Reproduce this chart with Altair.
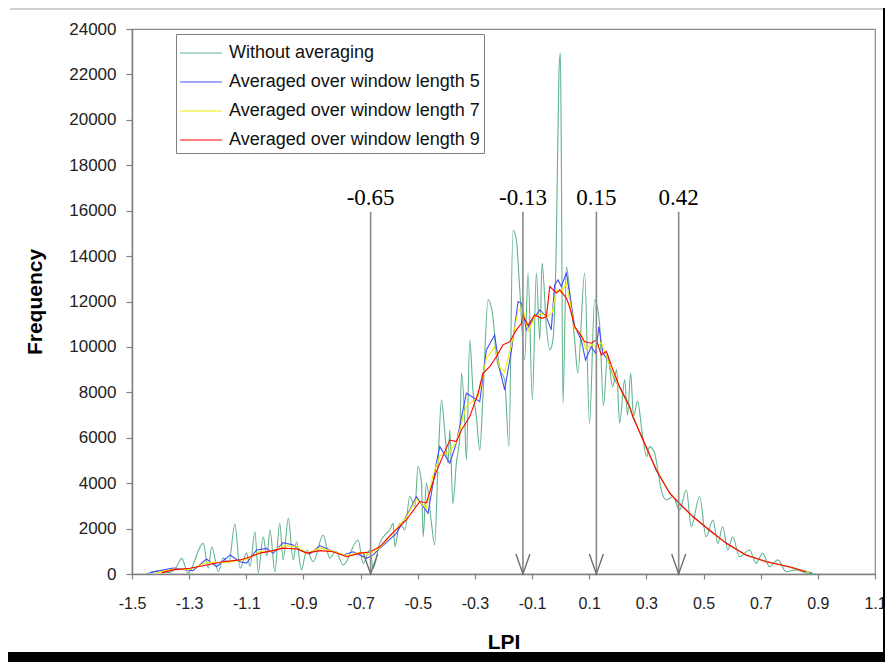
import altair as alt
import pandas as pd

# ---------------- data ----------------
series_names = [
    "Without averaging",
    "Averaged over window length 5",
    "Averaged over window length 7",
    "Averaged over window length 9",
]
series_colors = ["#62b48d", "#4a4aff", "#eeee00", "#ff0000"]
series_widths = [1.1, 1.1, 1.1, 2.2]

raw_x = [-1.450, -1.400, -1.370, -1.345, -1.326, -1.304, -1.251, -1.233, -1.221, -1.198,
         -1.181, -1.161, -1.140, -1.122, -1.099, -1.087, -1.070, -1.058, -1.041, -1.028,
         -1.017, -1.000, -0.983, -0.971, -0.953, -0.936, -0.924, -0.907, -0.889, -0.866,
         -0.831, -0.808, -0.787, -0.761, -0.709, -0.691, -0.668, -0.656, -0.633, -0.609,
         -0.598, -0.586, -0.580, -0.563, -0.545, -0.528, -0.510, -0.499, -0.487, -0.481,
         -0.470, -0.452, -0.441, -0.429, -0.417, -0.406, -0.394, -0.388, -0.377, -0.365,
         -0.353, -0.347, -0.336, -0.330, -0.318, -0.307, -0.295, -0.283, -0.272, -0.254,
         -0.237, -0.225, -0.213, -0.196, -0.181, -0.167, -0.155, -0.143, -0.126, -0.114,
         -0.099, -0.085, -0.073, -0.065, -0.050, -0.038, -0.027, -0.015, -0.006, -0.001,
         0.002, 0.008, 0.020, 0.031, 0.049, 0.060, 0.084, 0.101, 0.119, 0.136,
         0.150, 0.164, 0.182, 0.196, 0.206, 0.224, 0.234, 0.245, 0.255, 0.269,
         0.287, 0.301, 0.311, 0.329, 0.340, 0.352, 0.370, 0.393, 0.416, 0.440,
         0.457, 0.486, 0.509, 0.533, 0.550, 0.567, 0.585, 0.602, 0.626, 0.661,
         0.684, 0.707, 0.731, 0.760, 0.789, 0.824, 0.859, 0.894]
raw_y = [0, 150, 60, 300, 690, 40, 1350, 260, 1200, 100,
         700, 500, 2200, 260, 920, 320, 1860, 60, 1640, 800,
         1940, 100, 2230, 620, 2450, 620, 1420, 180, 1060, 540,
         1720, 690, 1000, 400, 1500, 470, 1060, 260, 1360, 1800,
         1940, 2230, 1200, 2230, 1940, 3410, 2970, 4730, 4000, 1640,
         4000, 2230, 1280, 4880, 7670, 6340, 4880, 6340, 3110, 4880,
         6050, 8840, 6930, 5020, 10310, 8110, 6930, 5460, 7810, 12070,
         11330, 9570, 8990, 8550, 5610, 15150, 14710, 12510, 9430, 13250,
         7670, 13250, 10310, 13690, 10900, 9870, 10310, 14710, 22060, 22940,
         19120, 7520, 13540, 12510, 10310, 8840, 13250, 6640, 12070, 11040,
         7400, 9700, 8250, 9000, 6640, 8550, 7000, 8840, 6930, 7600,
         6050, 5170, 5610, 5320, 4580, 3700, 3260, 3410, 2820, 3700,
         2080, 3410, 1640, 2380, 1350, 2080, 1060, 1640, 760, 1060,
         470, 910, 320, 620, 100, 180, 40, 0]

w5_x = [-1.437, -1.357, -1.287, -1.239, -1.204, -1.157, -1.122, -1.099, -1.064, -1.029,
        -1.006, -0.971, -0.936, -0.913, -0.878, -0.843, -0.808, -0.761, -0.726, -0.679,
        -0.656, -0.633, -0.575, -0.528, -0.505, -0.464, -0.435, -0.423, -0.388, -0.365,
        -0.330, -0.283, -0.260, -0.231, -0.213, -0.196, -0.172, -0.149, -0.137, -0.120,
        -0.097, -0.073, -0.050, -0.033, -0.021, -0.009, 0.002, 0.020, 0.031, 0.049,
        0.072, 0.087, 0.107, 0.122, 0.134, 0.148, 0.165, 0.189, 0.206, 0.241,
        0.253, 0.288, 0.335, 0.381, 0.416, 0.463, 0.521, 0.579, 0.649, 0.719,
        0.801, 0.880]
w5_y = [60, 260, 150, 660, 320, 840, 540, 480, 1060, 1130,
        910, 1380, 1280, 1060, 880, 1250, 1060, 840, 980, 690,
        840, 1130, 1790, 2820, 3410, 2670, 4880, 5610, 4880, 5760,
        7960, 7590, 9870, 10530, 8990, 8110, 9870, 12000, 11930, 10750,
        11190, 11630, 11330, 10750, 12730, 12950, 12660, 13250, 12370, 10900,
        10310, 9430, 10010, 9720, 10900, 9720, 9430, 8550, 8250, 7400,
        6900, 5950, 4550, 3600, 3080, 2550, 1900, 1380, 820, 560,
        300, 40]

w7_x = [-1.420, -1.357, -1.297, -1.239, -1.182, -1.122, -1.087, -1.052, -1.007, -0.972,
        -0.923, -0.888, -0.843, -0.797, -0.748, -0.703, -0.668, -0.633, -0.598, -0.540,
        -0.505, -0.470, -0.448, -0.423, -0.388, -0.365, -0.330, -0.289, -0.260, -0.231,
        -0.213, -0.196, -0.172, -0.149, -0.132, -0.114, -0.091, -0.067, -0.050, -0.030,
        -0.015, 0.002, 0.020, 0.031, 0.049, 0.072, 0.087, 0.107, 0.125, 0.142,
        0.160, 0.183, 0.206, 0.241, 0.288, 0.335, 0.381, 0.416, 0.463, 0.521,
        0.579, 0.649, 0.719, 0.801, 0.870]
w7_y = [40, 220, 200, 520, 500, 600, 700, 1000, 1000, 1250,
        1200, 900, 1150, 1000, 800, 950, 850, 1150, 1650, 2500,
        3300, 2900, 4300, 5200, 5400, 5800, 7400, 7800, 9500, 10000,
        9100, 8900, 10100, 11600, 11700, 10700, 11300, 11500, 11300, 11500,
        12500, 12400, 12800, 12100, 10800, 10600, 9900, 10100, 10000, 10200,
        9600, 8800, 8200, 7350, 5900, 4600, 3580, 3100, 2530, 1920,
        1360, 830, 550, 310, 60]

w9_x = [-1.396, -1.357, -1.297, -1.239, -1.182, -1.122, -1.087, -1.052, -1.007, -0.972,
        -0.923, -0.888, -0.843, -0.797, -0.748, -0.703, -0.668, -0.633, -0.598, -0.540,
        -0.493, -0.470, -0.448, -0.435, -0.388, -0.365, -0.347, -0.318, -0.289, -0.272,
        -0.248, -0.225, -0.202, -0.178, -0.155, -0.137, -0.132, -0.114, -0.091, -0.067,
        -0.050, -0.038, -0.015, -0.003, 0.020, 0.031, 0.049, 0.066, 0.084, 0.107,
        0.125, 0.142, 0.160, 0.183, 0.206, 0.241, 0.253, 0.288, 0.335, 0.381,
        0.416, 0.463, 0.521, 0.579, 0.649, 0.719, 0.801, 0.859]
w9_y = [50, 180, 250, 400, 540, 620, 750, 920, 1030, 1140,
        1100, 920, 1030, 980, 760, 920, 970, 1200, 1680, 2380,
        3190, 3130, 4000, 4510, 5900, 5830, 6340, 6930, 7960, 8840,
        9130, 9570, 10090, 10230, 10750, 11040, 11380, 10950, 11410, 11260,
        11330, 12660, 12370, 12510, 12150, 11780, 10900, 10600, 10230, 10160,
        10310, 9650, 9800, 8990, 8250, 7370, 6930, 5900, 4580, 3560,
        3110, 2520, 1940, 1350, 840, 540, 320, 100]

marker_x = [-0.665, -0.132, 0.125, 0.413]
marker_labels = ["-0.65", "-0.13", "0.15", "0.42"]
marker_top = [15950, 15950, 15950, 15950]
marker_label_y = [16250, 16250, 16250, 16250]

x_ticks = [-1.5, -1.3, -1.1, -0.9, -0.7, -0.5, -0.3, -0.1, 0.1, 0.3, 0.5, 0.7, 0.9, 1.1]
y_ticks = list(range(0, 24001, 2000))

# ---------------- tables ----------------
def series_df(name, xs, ys):
    return pd.DataFrame({"LPI": xs, "Frequency": ys, "series": [name] * len(xs)})

df_raw = series_df(series_names[0], raw_x, raw_y)
df_w5 = series_df(series_names[1], w5_x, w5_y)
df_w7 = series_df(series_names[2], w7_x, w7_y)
df_w9 = series_df(series_names[3], w9_x, w9_y)
df_mark = pd.DataFrame({"LPI": marker_x, "label": marker_labels,
                        "top": marker_top, "ly": marker_label_y,
                        "zero": [0] * len(marker_x)})

FONT = "Liberation Sans"

x_enc = alt.X("LPI:Q", title="LPI",
              scale=alt.Scale(domain=[-1.5, 1.1], nice=False, zero=False),
              axis=alt.Axis(values=x_ticks,
                            labelExpr="(datum.value < 0 ? '-' : '') + format(abs(datum.value), '.1f')",
                            labelFontSize=16, tickSize=5, labelPadding=16,
                            titlePadding=20, labelFlush=False, labelOverlap=False))
y_enc = alt.Y("Frequency:Q", title="Frequency",
              scale=alt.Scale(domain=[0, 24000], nice=False),
              axis=alt.Axis(values=y_ticks, format="d", labelFontSize=17,
                            tickSize=6, labelPadding=10, titlePadding=23,
                            labelFlush=False))

color_enc = alt.Color(
    "series:N",
    scale=alt.Scale(domain=series_names, range=series_colors),
    legend=alt.Legend(
        title=None, orient="none", legendX=44, legendY=5,
        direction="vertical",
        strokeColor="#808080", fillColor="white", padding=4,
        labelFont=FONT, labelFontSize=18, labelColor="#111",
        symbolType="M-1.5,0L1.5,0", symbolSize=784, symbolStrokeWidth=1.6,
        symbolOffset=6, labelOffset=13, rowPadding=5, labelLimit=400,
    ),
)
width_enc = alt.StrokeWidth(
    "series:N", scale=alt.Scale(domain=series_names, range=series_widths), legend=None
)

def line_layer(df, interp):
    return alt.Chart(df).mark_line(interpolate=interp).encode(
        x=x_enc, y=y_enc, color=color_enc, strokeWidth=width_enc
    )

lines = [line_layer(df_raw, "monotone")] + [
    line_layer(d, "linear") for d in (df_w5, df_w7, df_w9)
]

rules = alt.Chart(df_mark).mark_rule(color="#8a8a8a", strokeWidth=1.6).encode(
    x="LPI:Q", y="zero:Q", y2="top:Q"
)
arrows = alt.Chart(df_mark).mark_point(
    shape="M-0.35,-1L0,0L0.35,-1", size=1600, filled=False,
    stroke="#6f6f6f", strokeWidth=1.4, opacity=1
).encode(x="LPI:Q", y="zero:Q")
texts = alt.Chart(df_mark).mark_text(
    font="Liberation Serif", fontSize=23, color="black",
    align="center", baseline="alphabetic"
).encode(x="LPI:Q", y="ly:Q", text="label:N")

dummy = pd.DataFrame({"d": [0]})
frame_bottom = alt.Chart(dummy).mark_rect(color="black").encode(
    x=alt.value(-124), x2=alt.value(753), y=alt.value(623), y2=alt.value(640)
)
frame_right = alt.Chart(dummy).mark_rect(color="black").encode(
    x=alt.value(751), x2=alt.value(760), y=alt.value(-24), y2=alt.value(640)
)
frame_top = alt.Chart(dummy).mark_rule(color="#a0a0a0", strokeWidth=1).encode(
    x=alt.value(-122), x2=alt.value(751), y=alt.value(-20)
)

chart = alt.layer(
    *lines, rules, arrows, texts, frame_top, frame_bottom, frame_right
).properties(
    width=743, height=545,
    padding={"left": 124, "top": 21, "right": 10, "bottom": 88},
    autosize=alt.AutoSizeParams(type="none"),
    background="white",
).configure_view(
    stroke="#8a8a8a", strokeWidth=1.2
).configure_axis(
    grid=False, domainColor="#808080", tickColor="#808080", domainWidth=1.5,
    tickWidth=1.2, labelFont=FONT, labelColor="#222", titleFont=FONT,
    titleFontSize=21, titleFontWeight="bold", titleColor="black"
)

chart.save("out.html", embed_options={"renderer": "svg", "actions": False})
